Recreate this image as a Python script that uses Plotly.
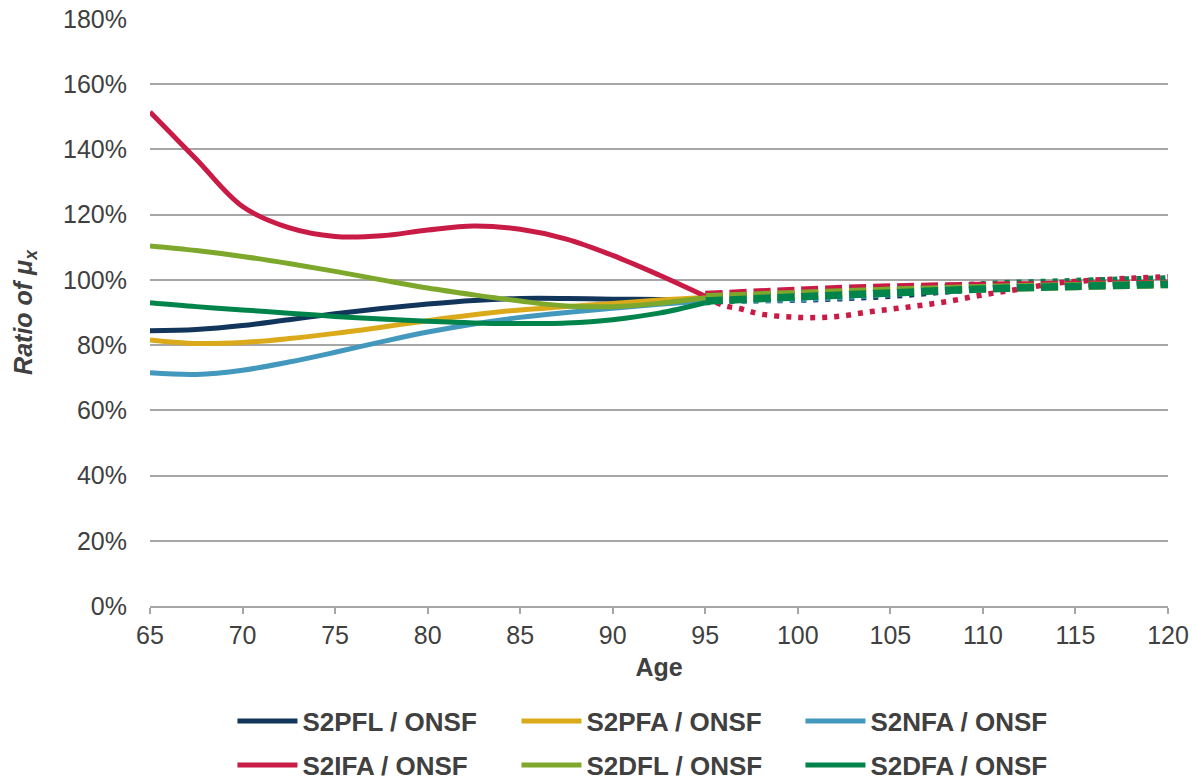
import plotly.graph_objects as go

# Fitted ages (solid section)
ages = [65, 67.5, 70, 72.5, 75, 77.5, 80, 82.5, 85, 87.5, 90, 92.5, 95]

s2pfl = [84.4, 84.8, 86.0, 87.8, 89.6, 91.2, 92.6, 93.7, 94.3, 94.3, 94.1, 94.0, 93.8]
s2pfa = [81.6, 80.5, 80.8, 82.0, 83.6, 85.5, 87.5, 89.3, 90.8, 91.8, 92.8, 93.8, 94.6]
s2nfa = [71.5, 71.0, 72.3, 74.8, 77.8, 81.0, 84.0, 86.5, 88.5, 90.0, 91.3, 92.5, 93.5]
s2ifa = [151.5, 137.0, 122.5, 116.0, 113.3, 113.5, 115.3, 116.5, 115.5, 112.5, 107.5, 101.5, 95.0]
s2dfl = [110.4, 109.0, 107.2, 105.0, 102.6, 100.0, 97.5, 95.4, 93.5, 92.0, 91.8, 92.8, 94.5]
s2dfa = [93.0, 91.8, 90.8, 89.8, 88.8, 88.0, 87.3, 86.8, 86.6, 86.8, 87.8, 89.8, 93.0]

# Extrapolated ages (broken section)
ext_ages = [95, 100, 105, 110, 115, 120]
ext_s2pfa = [94.5, 95.5, 96.5, 97.3, 98.0, 98.6]
ext_s2ifa = [95.5, 96.8, 97.8, 98.3, 98.6, 98.9]
ext_s2dfl = [94.8, 95.8, 96.8, 97.6, 98.2, 98.7]
ext_s2dfa = [93.5, 94.8, 96.0, 97.2, 98.0, 98.6]

dot_ages = [95, 100, 105, 110, 115, 120]
dot_s2pfl = [93.6, 93.8, 95.0, 97.2, 98.4, 99.2]
dot_s2nfa = [93.4, 94.0, 95.5, 97.5, 98.7, 99.6]
dot_s2dfa = [93.0, 95.0, 96.8, 98.8, 99.8, 100.6]

red_dot_ages = [95, 96, 97, 98, 100, 102, 104, 106, 108, 110, 112, 114, 116, 118, 120]
red_dot_vals = [94.8, 92.2, 91.0, 89.5, 88.5, 88.7, 90.3, 91.7, 93.3, 95.4, 97.2, 99.0, 99.9, 100.5, 101.0]

names = ["S2PFL / ONSF", "S2PFA / ONSF", "S2NFA / ONSF",
         "S2IFA / ONSF", "S2DFL / ONSF", "S2DFA / ONSF"]
colors = ["#12355b", "#dbaa1a", "#4398bd", "#c81b45", "#7ea82b", "#00844c"]
solid = [s2pfl, s2pfa, s2nfa, s2ifa, s2dfl, s2dfa]

fig = go.Figure()

DOT = "5px,7px"
DASH = "17px,7px"

# dotted projections underneath
for vals, col in [(dot_s2pfl, colors[0]), (dot_s2nfa, colors[2]), (dot_s2dfa, colors[5])]:
    fig.add_trace(go.Scatter(x=dot_ages, y=[v / 100 for v in vals], mode="lines",
                             line=dict(color=col, width=5.5, dash=DOT, shape="spline"),
                             showlegend=False, hoverinfo="skip"))
fig.add_trace(go.Scatter(x=red_dot_ages, y=[v / 100 for v in red_dot_vals], mode="lines",
                         line=dict(color=colors[3], width=5.5, dash=DOT, shape="spline"),
                         showlegend=False, hoverinfo="skip"))

# dashed projections
for vals, col in [(ext_s2pfa, colors[1]), (ext_s2ifa, colors[3]),
                  (ext_s2dfl, colors[4]), (ext_s2dfa, colors[5])]:
    fig.add_trace(go.Scatter(x=ext_ages, y=[v / 100 for v in vals], mode="lines",
                             line=dict(color=col, width=7.5, dash=DASH, shape="spline"),
                             showlegend=False, hoverinfo="skip"))

# fitted ratios
for i, (name, col, vals) in enumerate(zip(names, colors, solid)):
    fig.add_trace(go.Scatter(x=ages, y=[v / 100 for v in vals], mode="lines", name=name,
                             line=dict(color=col, width=5, shape="spline"),
                             legend="legend" if i < 3 else "legend2"))

font_main = "Liberation Sans, Arial, sans-serif"
txt = "#404040"
legend_common = dict(orientation="h", xanchor="left", yanchor="middle",
                     font=dict(family=font_main, size=26, color=txt, weight="bold"),
                     entrywidth=209, entrywidthmode="pixels", itemwidth=60,
                     bgcolor="rgba(0,0,0,0)")

fig.update_layout(
    width=1199, height=783,
    margin=dict(l=150, r=31, t=19, b=177, autoexpand=False),
    paper_bgcolor="white", plot_bgcolor="white",
    font=dict(family=font_main, size=25, color=txt),
    xaxis=dict(range=[65, 120], tickvals=[65, 70, 75, 80, 85, 90, 95, 100, 105, 110, 115, 120],
               showgrid=False, zeroline=False, showline=True, linecolor="#a6a6a6", linewidth=1.5,
               ticks="outside", ticklen=6, tickcolor="#a6a6a6", tickwidth=1.5,
               tickfont=dict(size=25, color=txt),
               title=dict(text="<b>Age</b>", font=dict(size=25, color=txt), standoff=11)),
    yaxis=dict(range=[0, 1.8], dtick=0.2, tickformat=".0%", showgrid=True,
               gridcolor="#a6a6a6", gridwidth=1.5, zeroline=False, showline=False,
               ticks="", ticklabelstandoff=22, tickfont=dict(size=25, color=txt),
               title=dict(text="<b><i>Ratio of μ<sub>x</sub></i></b>",
                          font=dict(size=25, color=txt), standoff=23)),
    legend=dict(x=0.081, y=-0.196, **legend_common),
    legend2=dict(x=0.081, y=-0.271, **legend_common),
)

fig.write_html("out.html")
